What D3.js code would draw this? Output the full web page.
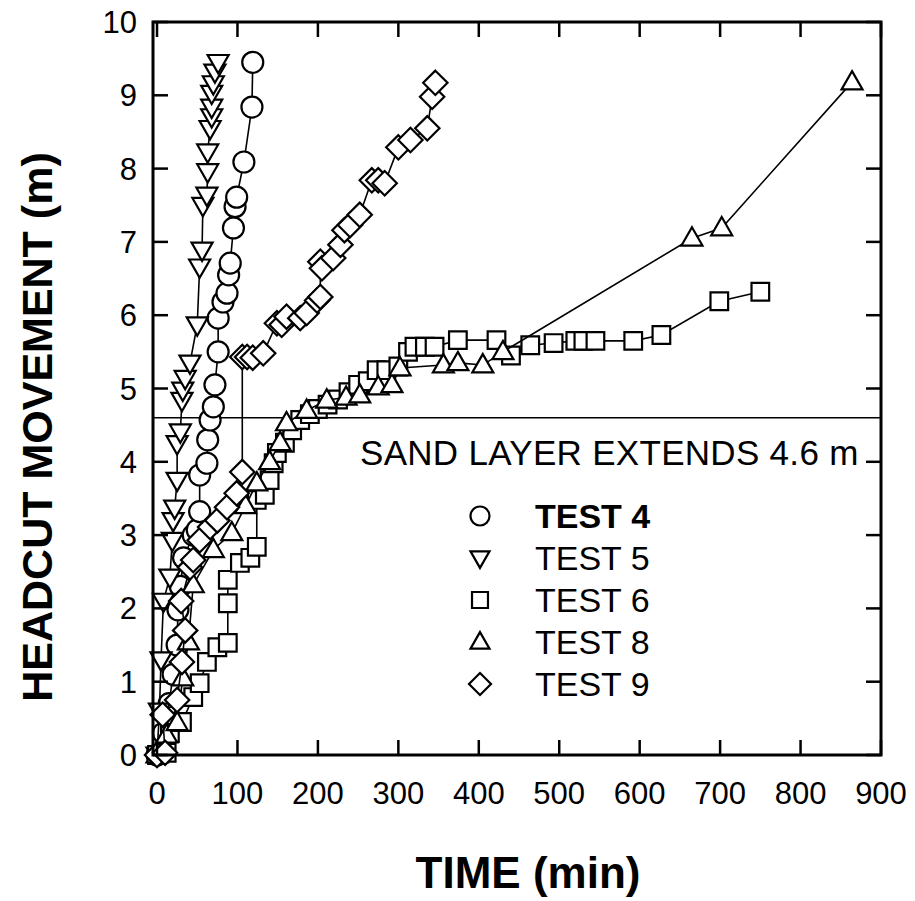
<!DOCTYPE html>
<html>
<head>
<meta charset="utf-8">
<script src="https://cdn.jsdelivr.net/npm/d3@7/dist/d3.min.js"></script>
<style>
html,body{margin:0;padding:0;background:#fff;}
svg{display:block;font-family:"Liberation Sans",Arial,Helvetica,sans-serif;}
</style>
</head>
<body>
<svg id="chart" width="915" height="901"></svg>
<script>
// ---- data (time in min, headcut movement in m) ----
const test4 = [[0,0],[8,0.3],[15,0.7],[20,1.1],[25,1.5],[26,1.98],[29,2.3],[33,2.69],[45,3.0],[50,3.07],[53,3.32],[53,3.82],[62,3.98],[63,4.30],[66,4.57],[70,4.75],[72,5.05],[76,5.50],[76,5.96],[82,6.18],[87,6.30],[89,6.55],[91,6.71],[95,7.19],[97,7.48],[99,7.61],[108,8.09],[118,8.84],[119,9.45]];
const test5 = [[0,0],[3,0.6],[5,1.3],[8,2.1],[16,2.43],[19,2.93],[20,3.2],[22,3.37],[25,3.75],[25,4.25],[29,4.41],[31,4.84],[32,4.98],[35,5.14],[41,5.35],[50,5.87],[53,6.66],[56,6.89],[57,7.50],[62,7.64],[63,7.96],[63,8.23],[66,8.55],[68,8.71],[68,8.84],[68,9.03],[70,9.16],[72,9.32],[76,9.45]];
const test6 = [[0,0],[12,0.03],[16,0.3],[31,0.45],[45,0.79],[53,0.98],[62,1.27],[75,1.47],[88,1.53],[88,2.07],[88,2.39],[103,2.62],[116,2.69],[124,2.84],[124,3.48],[134,3.55],[140,3.75],[145,3.98],[149,4.12],[159,4.26],[168,4.43],[178,4.57],[190,4.65],[200,4.72],[212,4.78],[225,4.85],[238,4.95],[250,5.05],[262,5.1],[273,5.25],[285,5.25],[300,5.3],[312,5.5],[320,5.57],[333,5.57],[345,5.57],[374,5.66],[422,5.66],[440,5.45],[464,5.59],[493,5.62],[520,5.65],[530,5.65],[545,5.65],[592,5.65],[627,5.73],[699,6.19],[750,6.32]];
const test8 = [[0,0],[12,0.27],[25,0.44],[32,1.05],[39,1.54],[45,2.32],[70,2.8],[93,3.03],[110,3.4],[124,3.71],[140,4.0],[153,4.26],[161,4.53],[186,4.7],[211,4.84],[235,4.88],[252,4.91],[275,5.02],[292,5.05],[302,5.28],[356,5.32],[374,5.35],[405,5.32],[430,5.5],[665,7.05],[702,7.19],[864,9.18]];
const test9 = [[0,0],[10,0.03],[7,0.55],[25,0.75],[31,1.27],[35,1.7],[30,2.1],[41,2.56],[45,2.66],[53,2.93],[66,3.11],[75,3.2],[87,3.38],[99,3.57],[106,3.86],[106,5.43],[112,5.43],[119,5.42],[132,5.48],[149,5.89],[155,5.87],[161,5.98],[178,5.96],[186,6.03],[199,6.2],[203,6.25],[203,6.73],[205,6.64],[219,6.78],[228,6.96],[233,7.16],[240,7.23],[252,7.37],[267,7.84],[275,7.84],[283,7.8],[300,8.29],[315,8.39],[336,8.55],[342,8.98],[346,9.17]];

const seriesNames = ["TEST 4","TEST 5","TEST 6","TEST 8","TEST 9"];
const seriesData = [test4,test5,test6,test8,test9];
const seriesMarkers = ["circle","down","square","up","diamond"];
const xTicks = [0,100,200,300,400,500,600,700,800,900];
const yTicks = [0,1,2,3,4,5,6,7,8,9,10];
const sandLevel = 4.6;
const sandLabel = "SAND LAYER EXTENDS 4.6 m";
const xTitle = "TIME (min)";
const yTitle = "HEADCUT MOVEMENT (m)";

// ---- layout ----
const L = 153, R = 881, T = 22, B = 755;
const svg = d3.select("#chart");
const x = d3.scaleLinear().domain([-5, 900]).range([L, R]);
const y = d3.scaleLinear().domain([0, 10]).range([B, T]);

function markerPath(type, s) {
  const p = d3.path();
  if (type === "circle") { p.arc(0,0,s/2,0,2*Math.PI); p.closePath(); }
  else if (type === "square") { p.rect(-s*0.42,-s*0.42,s*0.84,s*0.84); }
  else if (type === "up") { const h=s*0.87; p.moveTo(0,-h*0.6); p.lineTo(s/2,h*0.4); p.lineTo(-s/2,h*0.4); p.closePath(); }
  else if (type === "down") { const h=s*0.87; p.moveTo(0,h*0.6); p.lineTo(s/2,-h*0.4); p.lineTo(-s/2,-h*0.4); p.closePath(); }
  else if (type === "diamond") { const r=s*0.58; p.moveTo(0,-r); p.lineTo(r,0); p.lineTo(0,r); p.lineTo(-r,0); p.closePath(); }
  return p.toString();
}

// sand line
svg.append("line").attr("x1", L).attr("x2", R).attr("y1", y(sandLevel)).attr("y2", y(sandLevel))
  .attr("stroke", "#000").attr("stroke-width", 1.6);

// series
const line = d3.line().x(d => x(d[0])).y(d => y(d[1]));
seriesData.forEach((data, i) => {
  const g = svg.append("g");
  g.append("path").attr("d", line(data)).attr("fill", "none").attr("stroke", "#000").attr("stroke-width", 1.6);
  g.selectAll("path.m").data(data).enter().append("path").attr("class","m")
    .attr("transform", d => `translate(${x(d[0])},${y(d[1])})`)
    .attr("d", markerPath(seriesMarkers[i], 21))
    .attr("fill", "#fff").attr("stroke", "#000").attr("stroke-width", 2.2);
});

// frame
svg.append("rect").attr("x", L).attr("y", T).attr("width", R - L).attr("height", B - T)
  .attr("fill", "none").attr("stroke", "#000").attr("stroke-width", 3);

// ticks (inward on all sides)
const tl = 15;
const gx = svg.append("g");
xTicks.forEach(t => {
  gx.append("line").attr("x1", x(t)).attr("x2", x(t)).attr("y1", B).attr("y2", B - tl).attr("stroke","#000").attr("stroke-width",2.5);
  gx.append("line").attr("x1", x(t)).attr("x2", x(t)).attr("y1", T).attr("y2", T + tl).attr("stroke","#000").attr("stroke-width",2.5);
  gx.append("text").attr("x", x(t)).attr("y", 804).attr("text-anchor","middle").attr("font-size", 31).text(t);
});
const gy = svg.append("g");
yTicks.forEach(t => {
  gy.append("line").attr("x1", L).attr("x2", L + tl).attr("y1", y(t)).attr("y2", y(t)).attr("stroke","#000").attr("stroke-width",2.5);
  gy.append("line").attr("x1", R).attr("x2", R - tl).attr("y1", y(t)).attr("y2", y(t)).attr("stroke","#000").attr("stroke-width",2.5);
  gy.append("text").attr("x", 137).attr("y", y(t) + 11).attr("text-anchor","end").attr("font-size", 31).text(t);
});

// titles
svg.append("text").attr("x", 528).attr("y", 888).attr("text-anchor","middle")
  .attr("font-size", 44).attr("font-weight","bold").text(xTitle);
svg.append("text").attr("transform","translate(52,427) rotate(-90)").attr("text-anchor","middle")
  .attr("font-size", 43).attr("font-weight","bold").text(yTitle);

// sand label
svg.append("text").attr("x", 360).attr("y", 465).attr("font-size", 35).attr("letter-spacing", 0.3).text(sandLabel);

// legend
const legY = [528, 570, 612, 654, 696];
seriesNames.forEach((n, i) => {
  svg.append("path").attr("transform", `translate(480,${legY[i]-12})`)
    .attr("d", markerPath(seriesMarkers[i], 19))
    .attr("fill","#fff").attr("stroke","#000").attr("stroke-width",2.2);
  svg.append("text").attr("x", 535).attr("y", legY[i]).attr("font-size", 34)
    .attr("font-weight", i === 0 ? "bold" : "normal").text(n);
});
</script>
</body>
</html>
